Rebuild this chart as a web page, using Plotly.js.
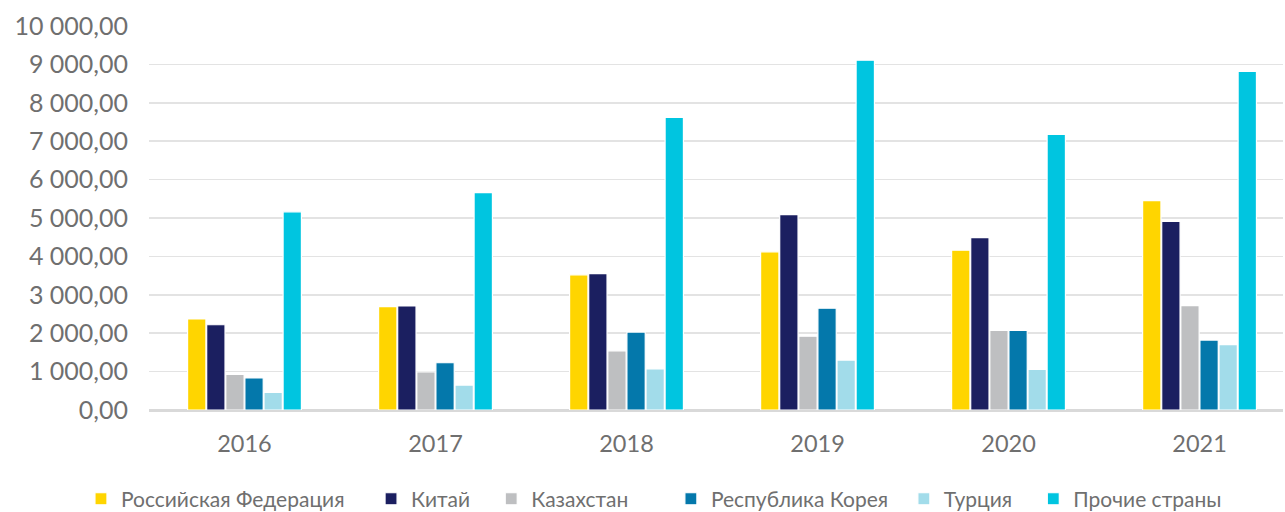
<!DOCTYPE html>
<html><head><meta charset="utf-8">
<script src="https://cdn.plot.ly/plotly-3.0.1.min.js"></script>
<style>html,body{margin:0;padding:0;background:#fff;}#chart{width:1285px;height:512px;}</style>
</head><body><div id="chart"></div>
<script>
const years = ['2016','2017','2018','2019','2020','2021'];
const seriesNames = ['Российская Федерация','Китай','Казахстан','Республика Корея','Турция','Прочие страны'];
const russia = [2370, 2690, 3520, 4120, 4160, 5450];
const china = [2220, 2710, 3550, 5090, 4490, 4910];
const kazakhstan = [930, 990, 1540, 1920, 2070, 2720];
const korea = [835, 1230, 2030, 2650, 2070, 1820];
const turkey = [460, 650, 1070, 1300, 1060, 1700];
const others = [5160, 5660, 7620, 9110, 7180, 8820];
const colors = ['#FFD500','#1B1F60','#BEBFC1','#0478AB','#A2DCEA','#00C5E0'];
const legendPad = [4, 3, 7, 2, 3, 0];
const allSeries = [russia, china, kazakhstan, korea, turkey, others];
const fontFam = 'Lato, "Open Sans", sans-serif';
const traces = allSeries.map((vals, i) => ({
  type: 'bar', x: years, y: vals, name: seriesNames[i] + '\u00A0'.repeat(legendPad[i]),
  marker: {color: colors[i], line: {color: '#ffffff', width: 1.2}},
  hoverinfo: 'x+y+name'
}));
const layout = {
  width: 1285, height: 512,
  margin: {l: 149, r: 2, t: 26, b: 102, autoexpand: false},
  paper_bgcolor: '#fff', plot_bgcolor: '#fff',
  separators: ', ',
  barmode: 'group', bargap: 0.4, bargroupgap: 0.04,
  font: {family: fontFam, color: '#6f6f6f'},
  xaxis: {type: 'category', range: [-0.5, 5.437], showgrid: false, zeroline: false,
    showline: false, ticks: '', tickfont: {size: 23.5, color: '#6f6f6f'}, ticklabelstandoff: 17},
  yaxis: {range: [0, 10000], dtick: 1000, tick0: 0, tickformat: ',.2f',
    showgrid: true, gridcolor: '#e3e3e3', gridwidth: 1.5,
    zeroline: true, zerolinecolor: '#d9d9d9', zerolinewidth: 3,
    showline: false, ticks: '', tickfont: {size: 25, color: '#6f6f6f'}, ticklabelstandoff: 20},
  showlegend: true,
  legend: {orientation: 'h', x: -0.06, xref: 'paper', xanchor: 'left', y: -0.232, yref: 'paper', yanchor: 'middle',
    font: {size: 21, color: '#6f6f6f'}, itemwidth: 30, traceorder: 'normal'}
};
Plotly.newPlot('chart', traces, layout, {displayModeBar: false, staticPlot: true});
</script></body></html>
